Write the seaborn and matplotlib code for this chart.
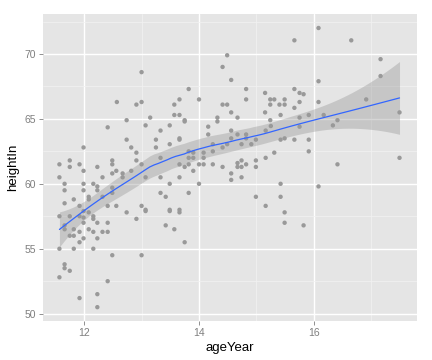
import numpy as np
import pandas as pd
import matplotlib
matplotlib.use("Agg")
import matplotlib.pyplot as plt
import seaborn as sns

age_year = [
    13.0, 12.57, 12.91, 13.0, 12.74, 13.15,
    14.49, 14.41, 14.56, 13.82, 14.82, 13.66, 14.0, 15.15, 15.24, 15.31, 14.82, 13.57, 14.41, 14.49,
    15.24, 15.40, 14.56, 15.15, 13.57, 13.66, 13.75, 14.32, 14.67, 15.24,
    16.08, 15.66, 16.65, 17.16, 17.16, 16.08, 15.66, 15.75, 15.82, 15.49, 15.49, 15.75, 16.08, 16.91,
    15.66, 15.42, 15.75, 15.91, 16.17, 17.49, 16.41,
    15.25, 15.75, 16.33, 15.42, 15.49, 15.66, 15.91, 15.31, 15.91, 16.41, 17.49, 15.42, 16.08, 15.42, 15.49,
    15.49, 15.82,
    13.49, 13.66, 13.42, 13.57, 13.75,
    11.57, 11.75, 11.92, 11.66, 11.66, 11.82, 11.99, 11.99, 12.08, 12.16, 12.16, 12.08, 11.92, 11.75, 11.82,
    12.23, 12.41, 12.16, 12.32, 12.41, 12.23, 11.99, 11.92, 11.57, 11.82, 12.16, 12.49, 13.0, 11.66, 11.66,
    11.75, 11.57, 12.41, 11.92, 12.23, 12.23, 12.74, 12.91, 13.07,
    11.57, 11.57, 11.66, 11.66, 11.66, 11.75, 11.75, 11.82, 11.92, 11.92, 11.99, 11.99, 11.99, 11.99, 11.99,
    12.08, 12.08, 12.16, 12.23, 12.23, 12.23, 12.32, 12.32, 12.41, 12.41, 12.49, 12.49, 12.49, 12.49, 12.49,
    12.56, 12.56, 12.67, 12.67, 12.74, 12.82, 12.82, 12.91, 12.91, 13.0, 13.0, 13.07, 13.07, 13.07,
    13.75, 13.49, 13.33, 13.25, 13.25, 13.49, 13.66, 13.66, 13.33, 13.33, 13.49, 13.33, 13.42, 13.66, 13.82,
    13.49, 13.66, 14.0, 13.66, 13.75, 13.82, 13.82, 13.82, 13.90, 13.90, 13.90, 14.0, 14.08, 14.08, 14.08,
    14.16, 14.16, 14.32, 14.24, 14.24, 14.41, 14.49, 14.56, 14.56, 14.67, 14.82, 14.82, 14.74, 14.91, 14.99,
    15.16, 15.16, 14.41, 14.56, 14.56, 14.67, 14.67, 14.74, 14.74, 14.82, 14.74, 14.99, 14.99, 14.99, 15.16,
    14.24,
]
height_in = [
    68.6, 66.3, 66.1, 66.3, 64.9, 65.1,
    69.9, 69.0, 68.0, 67.3, 67.3, 66.5, 66.5, 67.0, 66.5, 66.5, 66.5, 66.1, 66.1, 66.1,
    66.1, 66.1, 65.5, 65.5, 65.3, 65.3, 64.9, 65.1, 65.1, 64.9,
    72.0, 71.05, 71.05, 69.6, 68.3, 67.9, 67.3, 67.0, 66.9, 66.5, 66.1, 66.3, 66.3, 66.5,
    65.85, 65.3, 65.1, 65.3, 65.3, 65.5, 64.9,
    64.45, 64.4, 64.5, 63.4, 63.5, 63.4, 63.4, 62.4, 62.5, 61.5, 62.0, 60.0, 59.8, 59.0, 57.8,
    57.0, 56.8,
    57.9, 57.8, 56.8, 56.5, 55.5,
    57.5, 57.5, 57.5, 56.8, 56.5, 56.5, 57.4, 57.0, 57.8, 57.5, 57.3, 56.5, 56.3, 56.0, 56.0,
    57.0, 57.0, 56.3, 56.3, 56.3, 55.8, 55.8, 55.5, 55.0, 55.0, 55.0, 54.5, 54.5, 53.8, 53.5,
    53.3, 52.8, 52.5, 51.2, 51.5, 50.5, 57.8, 57.3, 57.9,
    61.5, 60.5, 60.0, 59.5, 58.5, 61.8, 61.3, 58.8, 61.5, 58.3, 62.8, 61.0, 60.0, 59.5, 57.9,
    59.0, 58.8, 60.0, 61.3, 59.8, 59.5, 60.5, 59.0, 64.35, 58.3, 61.8, 61.5, 60.8, 59.7, 59.3,
    61.0, 58.3, 60.8, 60.5, 63.4, 62.8, 61.0, 62.4, 61.8, 61.5, 58.3, 58.0, 64.5, 60.5,
    64.8, 64.5, 64.1, 63.4, 62.8, 63.05, 63.5, 63.4, 62.0, 60.5, 60.0, 59.3, 59.0, 60.5, 59.3,
    58.0, 58.0, 60.0, 61.5, 61.3, 61.5, 62.5, 62.0, 62.0, 62.4, 61.0, 61.5, 61.5, 62.4, 62.0,
    64.4, 63.8, 64.8, 63.05, 62.5, 62.8, 63.05, 64.1, 63.5, 63.8, 63.8, 63.5, 63.05, 63.05, 63.4,
    64.1, 62.0, 61.3, 60.8, 60.3, 61.6, 61.3, 61.3, 61.8, 61.5, 60.5, 61.8, 61.3, 59.0, 58.3,
    61.5,
]

x_ticks = [12, 14, 16]
y_ticks = [50, 55, 60, 65, 70]

df = pd.DataFrame({"ageYear": age_year, "heightIn": height_in})


def loess_fit(x, y, x0s, span=0.75):
    n = len(x)
    q = int(np.floor(n * span))
    def row(x0):
        d = np.abs(x - x0)
        dq = np.sort(d)[q - 1]
        w = np.clip(1 - (d / dq) ** 3, 0, None) ** 3
        X = np.column_stack([np.ones(n), x - x0, (x - x0) ** 2])
        W = np.diag(w)
        A = X.T @ W @ X
        l = (np.linalg.solve(A, X.T @ W))[0]
        return l
    L_data = np.array([row(xi) for xi in x])
    I = np.eye(n)
    M = (I - L_data).T @ (I - L_data)
    d1 = np.trace(M)
    res = y - L_data @ y
    s = np.sqrt(np.sum(res ** 2) / d1)
    L0 = np.array([row(x0) for x0 in x0s])
    fit = L0 @ y
    se = s * np.sqrt(np.sum(L0 ** 2, axis=1))
    return fit, se


xa = np.asarray(age_year, float)
ya = np.asarray(height_in, float)
grid = np.linspace(xa.min(), xa.max(), 80)
fit, se = loess_fit(xa, ya, grid)
smooth = pd.DataFrame({"ageYear": grid, "fit": fit,
                       "lo": fit - 1.97 * se, "hi": fit + 1.97 * se})

sns.set_style("darkgrid")
plt.rcParams["font.family"] = ["Liberation Sans", "DejaVu Sans"]

fig = plt.figure(figsize=(4.32, 3.6), dpi=100)
ax = fig.add_axes([0.0995, 0.108, 0.866, 0.853])
ax.set_facecolor("#E5E5E5")

sns.scatterplot(data=df, x="ageYear", y="heightIn", color="#999999", s=10,
                edgecolor="none", linewidth=0, ax=ax, zorder=3)
ax.fill_between(smooth["ageYear"], smooth["lo"], smooth["hi"],
                color="#999999", alpha=0.4, linewidth=0, zorder=4)
sns.lineplot(data=smooth, x="ageYear", y="fit", color="#3366FF", linewidth=0.9,
             ax=ax, zorder=5)

ax.set_xlim(11.284, 17.796)
ax.set_ylim(49.425, 73.075)
ax.set_xticks(x_ticks)
ax.set_yticks(y_ticks)
ax.set_xticks([13, 15, 17], minor=True)
ax.set_yticks([52.5, 57.5, 62.5, 67.5, 72.5], minor=True)
ax.grid(which="major", color="white", linewidth=1.0)
ax.grid(which="minor", color="#F2F2F2", linewidth=0.5)
ax.set_axisbelow(True)
for sp in ax.spines.values():
    sp.set_visible(False)
ax.tick_params(which="major", length=3, width=0.6, color="#7F7F7F",
               labelcolor="#7F7F7F", labelsize=7.5, pad=2, bottom=True, left=True)
ax.tick_params(which="minor", length=0)
ax.set_xlabel("ageYear", fontsize=9.5, color="black", labelpad=3)
ax.set_ylabel("heightIn", fontsize=9.5, color="black", labelpad=4)

fig.savefig("out.png", dpi=100, facecolor="white")
